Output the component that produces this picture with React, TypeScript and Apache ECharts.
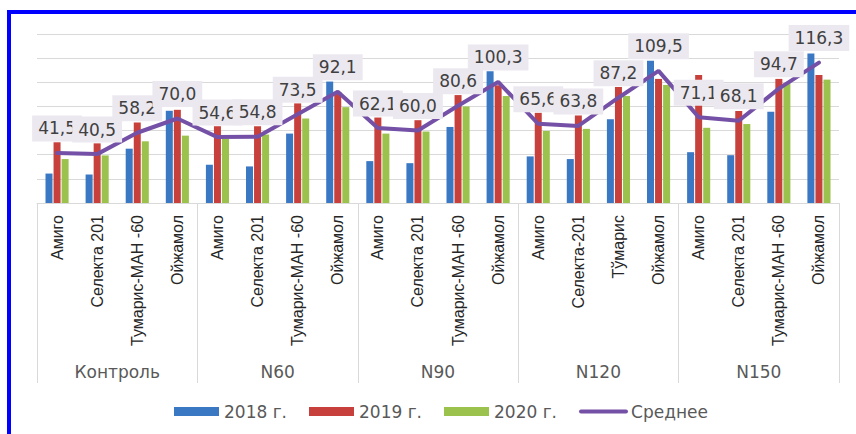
import React, { useEffect, useRef } from "react";
import * as echarts from "echarts";

const varieties = [
  "Амиго", "Селекта 201", "Тумарис-МАН -60", "Ойжамол",
  "Амиго", "Селекта 201", "Тумарис-МАН -60", "Ойжамол",
  "Амиго", "Селекта 201", "Тумарис-МАН -60", "Ойжамол",
  "Амиго", "Селекта-201", "Тўмарис", "Ойжамол",
  "Амиго", "Селекта 201", "Тумарис-МАН -60", "Ойжамол",
];
const groups = ["Контроль", "N60", "N90", "N120", "N150"];

const s2018 = [24.4, 23.6, 45.0, 76.4, 31.7, 30.3, 57.5, 100.6, 34.7, 33.0, 63.0, 109.2, 38.6, 36.4, 69.4, 117.8, 42.1, 39.6, 75.6, 123.8];
const s2019 = [50.3, 49.4, 66.7, 77.2, 63.6, 63.6, 82.5, 92.0, 70.8, 68.6, 89.4, 97.5, 74.7, 72.5, 96.1, 102.8, 106.1, 76.2, 102.8, 106.1];
const s2020 = [36.4, 39.4, 51.1, 55.8, 53.1, 56.7, 70.0, 79.4, 57.5, 59.2, 80.0, 88.6, 59.7, 61.4, 88.6, 97.8, 62.3, 65.4, 99.3, 102.2];
const average = [41.5, 40.5, 58.2, 70.0, 54.6, 54.8, 73.5, 92.1, 62.1, 60.0, 80.6, 100.3, 65.6, 63.8, 87.2, 109.5, 71.1, 68.1, 94.7, 116.3];

const seriesNames = ["2018 г.", "2019 г.", "2020 г.", "Среднее"];

export default function App() {
  const ref = useRef<HTMLDivElement>(null);
  useEffect(() => {
    if (!ref.current) return;
    const chart = echarts.init(ref.current, null, { renderer: "svg" });
    const barBase = { type: "bar", barWidth: 7, barGap: "15%", xAxisIndex: 0, yAxisIndex: 0 };
    chart.setOption({
      animation: false,
      backgroundColor: "#ffffff",
      grid: { left: 37, right: 17, top: 34, bottom: 231, containLabel: false },
      legend: {
        left: 169,
        top: 398,
        itemWidth: 45,
        itemHeight: 9,
        itemGap: 22,
        textStyle: { fontFamily: "DejaVu Sans", fontSize: 17, color: "#595959" },
        data: [
          { name: seriesNames[0], icon: "rect" },
          { name: seriesNames[1], icon: "rect" },
          { name: seriesNames[2], icon: "rect" },
          { name: seriesNames[3], itemStyle: { opacity: 0 }, lineStyle: { width: 4, color: "#7451A6", cap: "round" } },
        ],
      },
      xAxis: [
        {
          type: "category",
          data: varieties,
          position: "bottom",
          axisLine: { show: true, lineStyle: { color: "#d9d9d9", width: 1 } },
          axisTick: { show: false },
          axisLabel: {
            interval: 0,
            rotate: 90,
            margin: 12,
            fontFamily: "Liberation Sans",
            fontSize: 16,
            color: "#262626",
          },
        },
        {
          type: "category",
          data: groups,
          position: "bottom",
          offset: 180,
          axisLine: { show: false },
          axisTick: { show: true, inside: true, length: 180, lineStyle: { color: "#d9d9d9", width: 1 } },
          axisLabel: {
            inside: true,
            margin: 3,
            fontFamily: "DejaVu Sans",
            fontSize: 17,
            color: "#595959",
          },
        },
      ],
      yAxis: {
        type: "value",
        min: 0,
        max: 140,
        interval: 20,
        axisLabel: { show: false },
        axisLine: { show: false },
        axisTick: { show: false },
        splitLine: { lineStyle: { color: "#d9d9d9", width: 1 } },
      },
      series: [
        { ...barBase, name: seriesNames[0], data: s2018, itemStyle: { color: "#3B78C4" } },
        { ...barBase, name: seriesNames[1], data: s2019, itemStyle: { color: "#C8403C" } },
        { ...barBase, name: seriesNames[2], data: s2020, itemStyle: { color: "#9BC24C" } },
        {
          type: "line",
          name: seriesNames[3],
          data: average,
          xAxisIndex: 0,
          yAxisIndex: 0,
          symbol: "circle",
          symbolSize: 1,
          showSymbol: true,
          z: 5,
          itemStyle: { color: "#7451A6" },
          lineStyle: { color: "#7451A6", width: 4, cap: "round" },
          label: {
            show: true,
            position: "top",
            distance: 11,
            formatter: (p: any) => Number(p.value).toFixed(1).replace(".", ","),
            backgroundColor: "#ECE8F0",
            padding: [3, 6],
            lineHeight: 20,
            fontFamily: "DejaVu Sans",
            fontSize: 17,
            color: "#404040",
          },
        },
      ],
      graphic: [
        { type: "rect", shape: { x: 7, y: 10, width: 849, height: 4 }, style: { fill: "#0000FF" }, silent: true },
        { type: "rect", shape: { x: 7, y: 10, width: 4, height: 424 }, style: { fill: "#0000FF" }, silent: true },
      ],
    });
    return () => chart.dispose();
  }, []);
  return (
    <div
      ref={ref}
      style={{ position: "absolute", left: 0, top: 0, width: 856, height: 434 }}
    />
  );
}
